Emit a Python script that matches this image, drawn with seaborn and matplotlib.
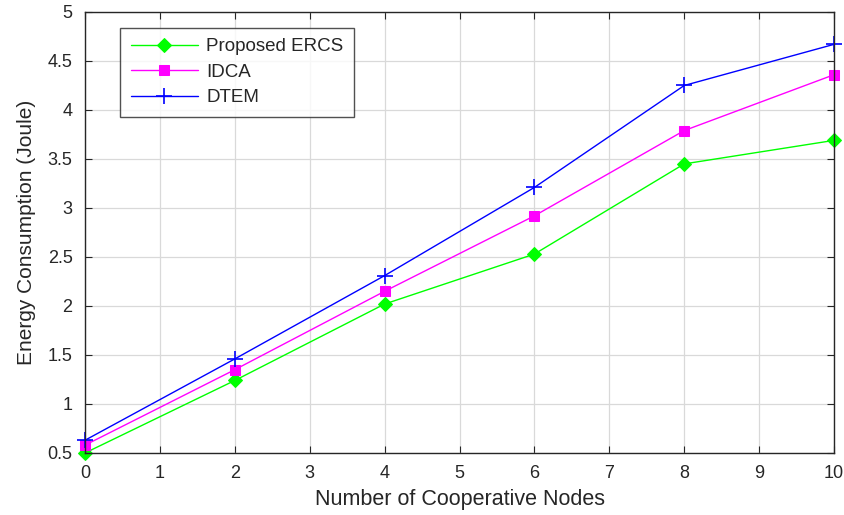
import matplotlib
matplotlib.use("Agg")
import matplotlib.pyplot as plt
import seaborn as sns
import pandas as pd

# data
nodes = [0, 2, 4, 6, 8, 10]
ercs = [0.50, 1.24, 2.02, 2.53, 3.45, 3.69]
idca = [0.58, 1.35, 2.15, 2.92, 3.79, 4.36]
dtem = [0.63, 1.46, 2.31, 3.21, 4.25, 4.67]

series_names = ["Proposed ERCS", "IDCA", "DTEM"]
colors = ["#00ff00", "#ff00ff", "#0000ff"]
markers = ["D", "s", "+"]

df = pd.DataFrame({
    "nodes": nodes * 3,
    "energy": ercs + idca + dtem,
    "method": [n for n in series_names for _ in nodes],
})

sns.set_style("ticks")
plt.rcParams["font.family"] = ["Liberation Sans", "DejaVu Sans"]

fig = plt.figure(figsize=(8.45, 5.15), dpi=100)
ax = fig.add_axes([0.1006, 0.1204, 0.8864, 0.8563])

for name, col, mk in zip(series_names, colors, markers):
    sub = df[df["method"] == name]
    kw = dict(markersize=7) if mk != "+" else dict(markersize=11, markeredgewidth=1.2)
    sns.lineplot(data=sub, x="nodes", y="energy", ax=ax, color=col, marker=mk,
                 markeredgecolor=col, linewidth=1.0, label=name, clip_on=False, **kw)

ax.set_xlim(0, 10)
ax.set_ylim(0.5, 5)
ax.set_xticks(range(0, 11))
ax.set_yticks([0.5, 1, 1.5, 2, 2.5, 3, 3.5, 4, 4.5, 5])
ax.set_yticklabels(["0.5", "1", "1.5", "2", "2.5", "3", "3.5", "4", "4.5", "5"])
ax.grid(True, color="#d9d9d9", linewidth=0.9)
ax.tick_params(direction="in", top=True, right=True, labelsize=13, length=5,
               color="#262626", labelcolor="#262626")
ax.tick_params(axis="x", pad=9)
ax.tick_params(axis="y", pad=9)
for s in ax.spines.values():
    s.set_color("#262626")
    s.set_linewidth(1.0)

ax.set_xlabel("Number of Cooperative Nodes", fontsize=15.5, labelpad=5, color="#262626")
ax.set_ylabel("Energy Consumption (Joule)", fontsize=15, labelpad=8, color="#262626")

leg = ax.legend(loc="upper left", bbox_to_anchor=(0.047, 0.964), fontsize=13.5,
                frameon=True, fancybox=False, edgecolor="#262626", handlelength=3.6,
                handletextpad=0.45, borderpad=0.55, labelspacing=0.45, borderaxespad=0)
leg.get_frame().set_linewidth(1.0)

fig.savefig("out.png", dpi=100)
